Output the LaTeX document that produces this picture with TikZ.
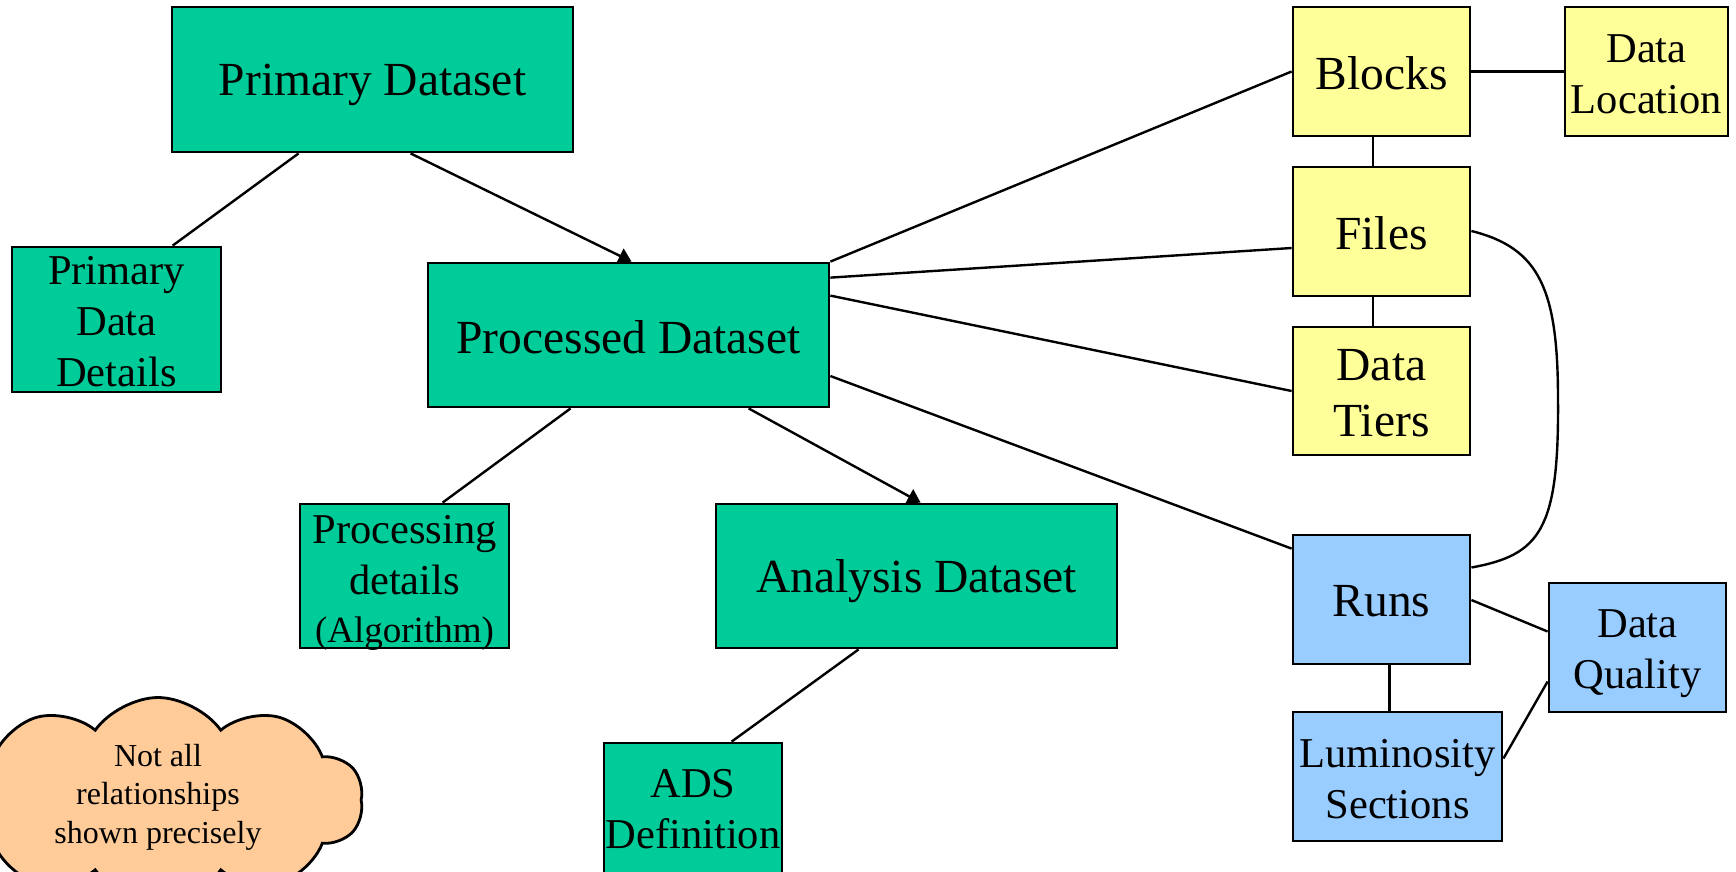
\documentclass[tikz,border=0pt]{standalone}
\usepackage{fontspec}
\setmainfont{Liberation Serif}
\usetikzlibrary{arrows.meta,shapes.symbols}

\definecolor{dsgreen}{HTML}{00CC99}
\definecolor{blkyellow}{HTML}{FFFF99}
\definecolor{runblue}{HTML}{99CCFF}
\definecolor{cloudorange}{HTML}{FFCC99}

\tikzset{
  box/.style={draw=black, line width=2.8pt, inner sep=0pt},
  dsbox/.style={box, fill=dsgreen},
  ybox/.style={box, fill=blkyellow},
  bbox/.style={box, fill=runblue},
  bigtext/.style={font=\fontsize{47.5}{56}\selectfont, align=center, inner sep=0pt},
  midtext/.style={font=\fontsize{42.5}{51}\selectfont, align=center, inner sep=0pt},
  link/.style={draw=black, line width=2.4pt},
  flow/.style={link, -{Triangle[length=13pt,width=16pt]}},
}

\begin{document}
\begin{tikzpicture}[x=1pt, y=-1pt]
\path[use as bounding box] (0,0) rectangle (1736,871);
\clip (0,0) rectangle (1736,871);

% dataset hierarchy
\node[dsbox, minimum width=401pt, minimum height=145pt,
      label={[bigtext, yshift=-5pt]center:Primary Dataset}] (pd) at (372.5,79.5) {};
\node[dsbox, minimum width=209pt, minimum height=145pt,
      label={[midtext, yshift=-2.5pt]center:{Primary\\Data\\Details}}] (pdd) at (116.5,319.5) {};
\node[dsbox, minimum width=401pt, minimum height=144pt,
      label={[bigtext, yshift=-2pt]center:Processed Dataset}] (proc) at (628.5,335) {};
\node[dsbox, minimum width=209pt, minimum height=144pt,
      label={[midtext, yshift=-6.5pt]center:{Processing\\details\\[-3pt]{\fontsize{37}{44}\selectfont(Algorithm)}}}] (pdet) at (404.5,576) {};
\node[dsbox, minimum width=401pt, minimum height=144pt,
      label={[bigtext, yshift=-5.5pt]center:Analysis Dataset}] (ads) at (916.5,576) {};
\node[dsbox, minimum width=178pt, minimum height=144pt,
      label={[midtext, yshift=5.5pt]center:{ADS\\Definition}}] (adsdef) at (693,815) {};

% file bookkeeping
\node[ybox, minimum width=177pt, minimum height=129pt,
      label={[bigtext, yshift=-2pt]center:Blocks}] (blocks) at (1381.5,71.5) {};
\node[ybox, minimum width=163pt, minimum height=129pt,
      label={[midtext, yshift=-3pt]center:{Data\\Location}}] (dloc) at (1646.5,71.5) {};
\node[ybox, minimum width=177pt, minimum height=129pt,
      label={[bigtext, yshift=-2pt]center:Files}] (files) at (1381.5,231.5) {};
\node[ybox, minimum width=177pt, minimum height=128pt,
      label={[bigtext, yshift=-2.5pt]center:{Data\\Tiers}}] (tiers) at (1381.5,391) {};

% run bookkeeping
\node[bbox, minimum width=177pt, minimum height=129pt,
      label={[bigtext, yshift=-2pt]center:Runs}] (runs) at (1381.5,599.5) {};
\node[bbox, minimum width=209pt, minimum height=129pt,
      label={[midtext, yshift=-2.5pt]center:{Luminosity\\Sections}}] (lumi) at (1397.5,776.5) {};
\node[bbox, minimum width=177pt, minimum height=129pt,
      label={[midtext, yshift=-6.5pt]center:{Data\\Quality}}] (dq) at (1637.5,647.5) {};

% note
\node[cloud, cloud puffs=10, cloud puff arc=110, cloud ignores aspect,
      draw=black, fill=cloudorange, line width=2.8pt,
      minimum width=410pt, minimum height=205pt, inner sep=0pt,
      label={[font=\fontsize{32}{38.5}\selectfont, align=center, inner sep=0pt, xshift=0pt, yshift=3pt]center:{Not all\\relationships\\shown precisely}}]
  (note) at (158,800) {};

% dataset links
\draw[link] ([xshift=128pt]pd.south west) -- ([xshift=162pt]pdd.north west);
\draw[flow] ([xshift=240pt]pd.south west) -- ([xshift=205pt]proc.north west);
\draw[link] ([xshift=144pt]proc.south west) -- ([xshift=144pt]pdet.north west);
\draw[flow] ([xshift=322pt]proc.south west) -- ([xshift=206pt]ads.north west);
\draw[link] ([xshift=144pt]ads.south west) -- ([xshift=129pt]adsdef.north west);

% processed dataset to bookkeeping
\draw[link] (proc.north east) -- (blocks.west);
\draw[link] ([yshift=-16pt]proc.north east) -- ([yshift=-16.5pt]files.west);
\draw[link] ([yshift=-34pt]proc.north east) -- (tiers.west);
\draw[link] ([yshift=-41pt]proc.east) -- ([yshift=-15pt]runs.north west);

% bookkeeping links
\draw[link] (blocks.east) -- (dloc.west);
\draw[link] ([xshift=-8.5pt]blocks.south) -- ([xshift=-8.5pt]files.north);
\draw[link] ([xshift=-8.5pt]files.south) -- ([xshift=-8.5pt]tiers.north);
\draw[link] ([xshift=8pt]runs.south) -- ([xshift=-8pt]lumi.north);
\draw[link] ([yshift=-0.5pt]runs.east) -- ([yshift=16pt]dq.west);
\draw[link] ([yshift=18pt]lumi.east) -- ([yshift=-34pt]dq.west);
\draw[link] ([yshift=0.5pt]files.east) .. controls (1540,248) and (1558,290) .. (1558,400)
            .. controls (1559,530) and (1540,555) .. ([yshift=32pt]runs.east);
\end{tikzpicture}
\end{document}
